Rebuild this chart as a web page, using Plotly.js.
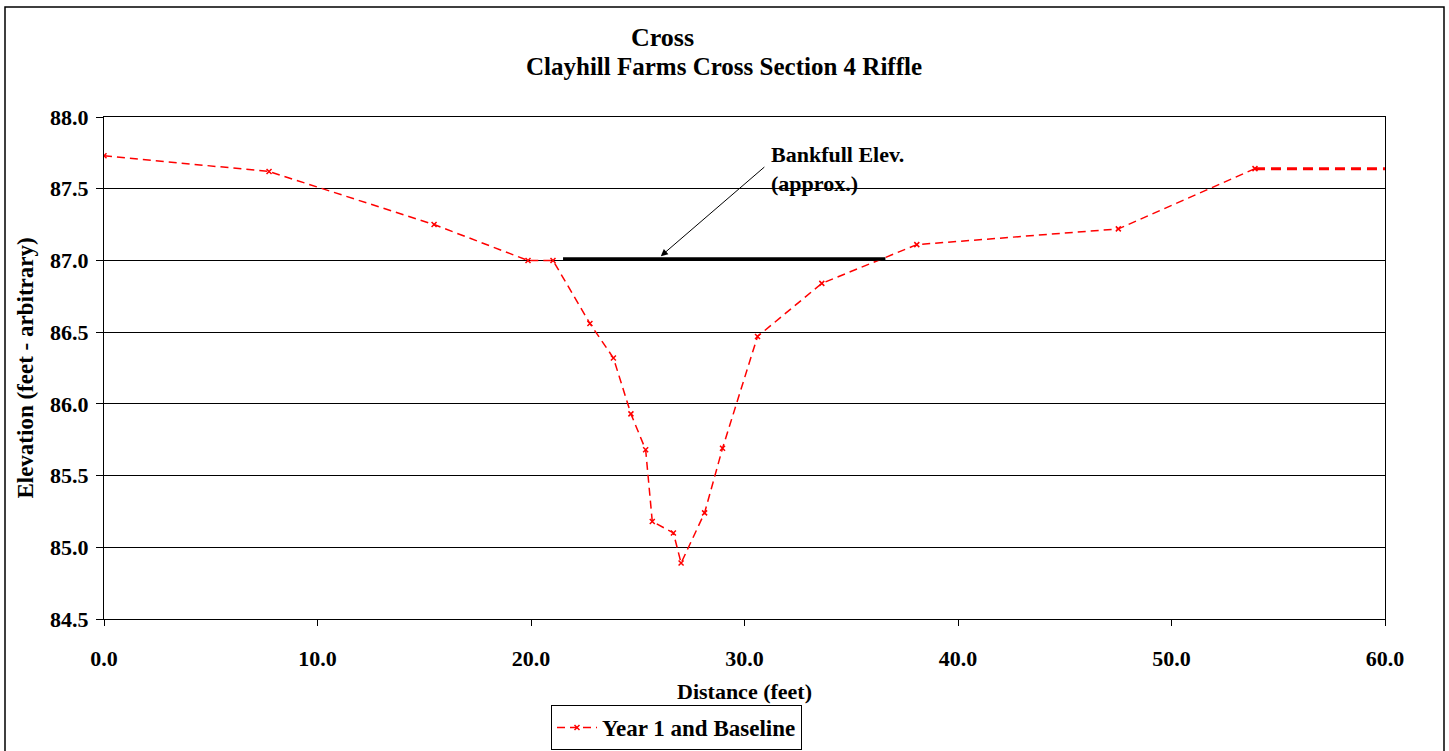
<!DOCTYPE html>
<html>
<head>
<meta charset="utf-8">
<script src="https://cdn.plot.ly/plotly-3.0.1.min.js"></script>
<style>html,body{margin:0;padding:0;background:#fff;}#chart{width:1449px;height:751px;}</style>
</head>
<body>
<div id="chart"></div>
<script>
// Data
const distance = [0.0, 7.73, 15.46, 19.86, 21.03, 22.76, 23.86, 24.68, 25.37, 25.68, 26.67, 27.03, 28.13, 28.97, 30.61, 33.62, 38.07, 47.51, 53.91];
const elevation = [87.73, 87.62, 87.25, 87.00, 87.00, 86.56, 86.32, 85.93, 85.68, 85.18, 85.10, 84.89, 85.24, 85.69, 86.47, 86.84, 87.11, 87.22, 87.64];
const tailDistance = [53.91, 60.0];
const tailElevation = [87.64, 87.64];
const bankfullDistance = [21.5, 36.6];
const bankfullElevation = [87.01, 87.01];
const arrowHead = [26.08, 87.03];
const arrowTail = [31.0, 87.66];
const yTicks = [84.5, 85.0, 85.5, 86.0, 86.5, 87.0, 87.5, 88.0];
const xTicks = [0, 10, 20, 30, 40, 50, 60];

const font = "'Liberation Serif', 'Times New Roman', serif";

const traces = [
  {
    x: distance, y: elevation, type: 'scatter', mode: 'lines+markers',
    name: '<b>Year 1 and Baseline</b>',
    line: {color: '#ff0000', width: 1.5, dash: '8px,5px'},
    marker: {symbol: 'x-thin', size: 5, color: '#ff0000', line: {color: '#ff0000', width: 1.5}}
  },
  {
    x: tailDistance, y: tailElevation, type: 'scatter', mode: 'lines',
    showlegend: false, hoverinfo: 'skip',
    line: {color: '#ff0000', width: 3, dash: '10px,6px'}
  },
  {
    x: bankfullDistance, y: bankfullElevation, type: 'scatter', mode: 'lines',
    showlegend: false, hoverinfo: 'skip',
    line: {color: '#000000', width: 3.5}
  }
];

const layout = {
  width: 1449, height: 751,
  margin: {l: 104, r: 64, t: 117, b: 132, autoexpand: false},
  paper_bgcolor: '#ffffff', plot_bgcolor: '#ffffff',
  font: {family: font, color: '#000', size: 18},
  showlegend: true,
  legend: {
    x: (551 - 104) / 1281, y: (619 - 705) / 502, xanchor: 'left', yanchor: 'top',
    bordercolor: '#000', borderwidth: 1, bgcolor: '#fff',
    font: {family: font, size: 23, color: '#000'},
    tracegroupgap: 0, itemwidth: 40
  },
  xaxis: {
    range: [0, 60], tickvals: xTicks, tickformat: '.1f', automargin: false,
    ticks: 'outside', ticklen: 6, tickcolor: '#000',
    tickfont: {family: font, size: 22, weight: 'bold', color: '#000'},
    ticklabelstandoff: 14,
    showgrid: false, zeroline: false,
    showline: true, linecolor: '#000', linewidth: 1, mirror: true,
    title: {text: '<b>Distance (feet)</b>', font: {family: font, size: 22, color: '#000'}, standoff: 13}
  },
  yaxis: {
    range: [84.5, 88.0], tickvals: yTicks, tickformat: '.1f', automargin: false,
    ticks: 'outside', ticklen: 7, tickcolor: '#000',
    tickfont: {family: font, size: 22, weight: 'bold', color: '#000'},
    ticklabelstandoff: 3,
    showgrid: true, gridcolor: '#000', gridwidth: 1,
    zeroline: false,
    showline: true, linecolor: '#000', linewidth: 1, mirror: true,
    title: {text: '<b>Elevation (feet - arbitrary)</b>', font: {family: font, size: 23, color: '#000'}, standoff: 10}
  },
  annotations: [
    {text: '<b>Cross</b>', xref: 'paper', yref: 'paper', x: (662 - 104) / 1281, y: (619 - 38) / 502,
     xanchor: 'center', yanchor: 'middle', showarrow: false, font: {family: font, size: 26, color: '#000'}},
    {text: '<b>Clayhill Farms Cross Section 4 Riffle</b>', xref: 'paper', yref: 'paper', x: (724 - 104) / 1281, y: (619 - 66) / 502,
     xanchor: 'center', yanchor: 'middle', showarrow: false, font: {family: font, size: 25, color: '#000'}},
    {text: '', xref: 'x', yref: 'y', x: arrowHead[0], y: arrowHead[1],
     ax: arrowTail[0], ay: arrowTail[1], axref: 'x', ayref: 'y',
     showarrow: true, arrowhead: 2, arrowsize: 1.4, arrowwidth: 1, arrowcolor: '#000'},
    {text: '<b>Bankfull Elev.<br>(approx.)</b>', xref: 'x', yref: 'y', x: 31.15, y: 87.64,
     showarrow: false, xanchor: 'left', yanchor: 'middle', align: 'left',
     font: {family: font, size: 22, color: '#000'}}
  ],
  shapes: [
    {type: 'rect', xref: 'paper', yref: 'paper', x0: (5 - 104) / 1281, x1: (1444 - 104) / 1281,
     y0: (619 - 760) / 502, y1: (619 - 7) / 502, line: {color: '#000', width: 1.5}, fillcolor: 'rgba(0,0,0,0)', layer: 'below'}
  ]
};

Plotly.newPlot('chart', traces, layout, {displayModeBar: false, staticPlot: true});
</script>
</body>
</html>
